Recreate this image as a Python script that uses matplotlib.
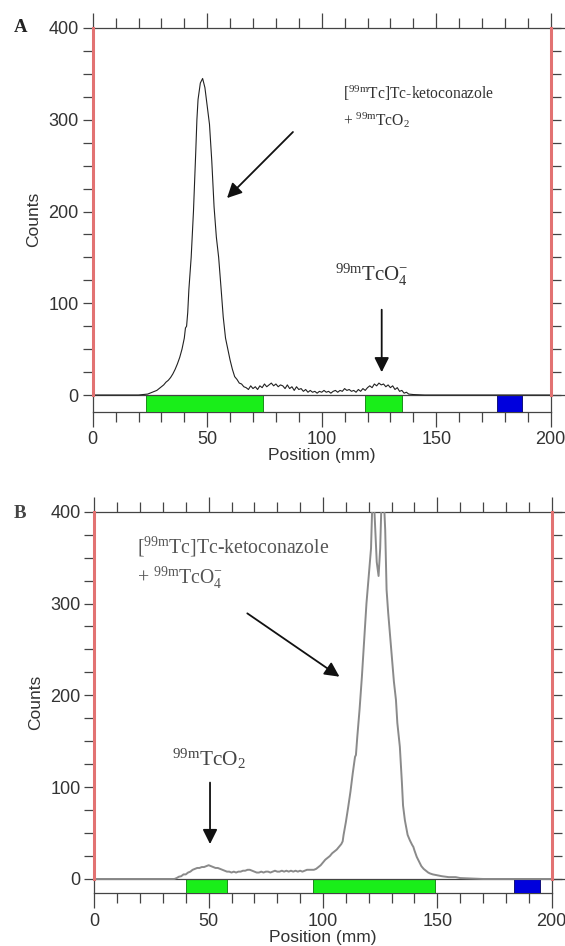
import matplotlib
matplotlib.use("Agg")
import matplotlib.pyplot as plt
from matplotlib.ticker import MultipleLocator

plt.rcParams['font.family'] = ['Liberation Sans', 'DejaVu Sans']
plt.rcParams['mathtext.fontset'] = 'custom'
plt.rcParams['mathtext.rm'] = 'Liberation Serif'
plt.rcParams['mathtext.it'] = 'Liberation Serif:italic'

# ---------------- data: panel A ----------------
pos_a = [0, 20, 22, 24, 25, 26, 27, 28, 29, 30, 31, 32, 33, 34, 35, 36, 37, 38, 39, 40,
         40.5, 41, 41.5, 42, 43, 44, 45, 45.5, 46, 47, 48, 49, 50, 51, 52, 53, 54, 55, 56,
         57, 58, 59, 60, 61, 62, 63, 64, 65, 66, 67, 68, 69, 70, 71, 72, 73, 74, 75, 76,
         77, 78, 79, 80, 81, 82, 83, 84, 85, 86, 87, 88, 89, 90, 91, 92, 93, 94, 95, 96,
         97, 98, 99, 100, 101, 102, 103, 104, 105, 106, 107, 108, 109, 110, 111, 112, 113,
         114, 115, 116, 117, 118, 119, 120, 121, 122, 123, 124, 125, 126, 127, 128, 129,
         130, 131, 132, 133, 134, 135, 136, 137, 138, 140, 145, 200]
counts_a = [0, 0, 0.5, 1, 2, 3, 4, 5, 7, 9, 11, 14, 16, 19, 23, 28, 34, 41, 50, 62,
            73, 75, 90, 115, 150, 200, 265, 300, 322, 340, 345, 335, 315, 295, 255, 205, 172, 150, 118,
            85, 62, 50, 38, 28, 20, 17, 13, 12, 9, 8, 6, 10, 7, 9, 6, 10, 8, 12, 9,
            11, 13, 10, 12, 9, 11, 10, 7, 11, 7, 9, 5, 9, 6, 7, 4, 6, 3, 5, 3,
            4, 2, 4, 3, 5, 3, 4, 2, 4, 5, 3, 5, 4, 7, 5, 6, 4,
            5, 3, 6, 4, 7, 5, 8, 10, 8, 12, 10, 13, 11, 12, 9, 11,
            8, 10, 6, 8, 4, 5, 2, 3, 1, 0.5, 0, 0]
bands_a_start = [23.3, 118.9]
bands_a_end = [74.5, 135.1]
ref_a = (176.4, 187.6)

# ---------------- data: panel B ----------------
pos_b = [0, 35, 36, 37, 38, 39, 40, 41, 42, 43, 44, 45, 46, 47, 48, 49, 50, 51, 52, 53,
         54, 55, 56, 57, 58, 59, 60, 61, 62, 63, 64, 65, 66, 67, 68, 69, 70, 71, 72, 73,
         74, 75, 76, 77, 78, 79, 80, 81, 82, 83, 84, 85, 86, 87, 88, 89, 90, 91, 92, 93,
         94, 95, 96, 97, 98, 99, 100, 101, 102, 103, 104, 105, 106, 107, 108, 108.6, 109,
         110, 111, 112, 113, 114, 114.4, 115, 116, 117, 118, 119, 120, 121, 121.8, 122.5,
         123.5, 124.3, 125, 125.8, 126.5, 127.2, 127.8, 128.5, 129, 130, 131, 131.9, 132.5,
         133.6, 134.5, 135, 135.8, 136.5, 137, 138, 139, 139.5, 140, 141, 142, 142.4, 143,
         144, 145, 146, 146.8, 148, 150, 152, 155, 158, 160, 165, 170, 200]
counts_b = [0, 0, 1, 2.5, 3, 5, 5, 7, 8, 10, 11, 12, 12, 13, 13, 14, 15, 14, 13, 12,
            12, 11, 10, 9, 8, 8, 7, 8, 7, 8, 8, 9, 9, 10, 10, 9, 8, 7, 7, 8,
            7, 8, 8, 7, 8, 9, 8, 8, 9, 8, 9, 8, 9, 8, 9, 8, 9, 8, 9, 10,
            10, 10, 10, 11, 13, 15, 18, 21, 23, 25, 28, 30, 32, 35, 38, 41, 48,
            62, 78, 95, 115, 133, 135, 155, 185, 220, 260, 300, 330, 360, 430, 400,
            345, 330, 360, 430, 420, 380, 315, 290, 275, 245, 215, 195, 170,
            144, 105, 80, 64, 55, 48, 42, 37, 35, 31, 24, 19, 17, 14,
            11, 9, 7, 6, 5, 4, 3, 2, 2, 1, 0.5, 0, 0]
bands_b_start = [40.2, 95.5]
bands_b_end = [58.0, 149.0]
ref_b = (183.5, 194.8)

x_ticks = [0, 50, 100, 150, 200]
y_ticks = [0, 100, 200, 300, 400]

W, H = 565, 946
fig = plt.figure(figsize=(W / 100, H / 100), dpi=100)

GREY = '#444444'
RED = '#e27272'
GREEN = '#19ee19'
BLUE = '#0000dd'
SERIF = ['Liberation Serif', 'DejaVu Serif']


def setup(ax, ymin):
    ax.set_xlim(0, 200)
    ax.set_ylim(ymin, 400)
    ax.set_xticks(x_ticks)
    ax.set_yticks(y_ticks)
    ax.xaxis.set_minor_locator(MultipleLocator(10))
    ax.set_yticks([v for v in range(25, 400, 25) if v % 100], minor=True)
    ax.tick_params(axis='x', which='major', top=True, bottom=True, direction='out',
                   length=11, width=0.9, color=GREY, labelsize=13, labelcolor='#333333', pad=3)
    ax.tick_params(axis='x', which='minor', top=True, bottom=True, direction='out',
                   length=7, width=0.9, color=GREY)
    ax.tick_params(axis='y', which='both', left=True, right=True, direction='out',
                   length=7, width=0.9, color=GREY, labelsize=13, labelcolor='#333333', pad=3)
    for s in ['top', 'bottom', 'left', 'right']:
        ax.spines[s].set_color(GREY)
        ax.spines[s].set_linewidth(0.9)
    ax.spines['left'].set_bounds(ymin, 0)
    ax.spines['right'].set_bounds(ymin, 0)
    frac0 = (0 - ymin) / (400 - ymin)
    ax.axvline(0, ymin=frac0, ymax=1, color=RED, lw=2.2, zorder=5, clip_on=False)
    ax.axvline(200, ymin=frac0, ymax=1, color=RED, lw=2.2, zorder=5, clip_on=False)
    # zero line and top line extending to figure edge
    ax.plot([0, 1.032], [0, 0], transform=ax.get_yaxis_transform(), color=GREY, lw=0.9,
            clip_on=False, zorder=4)
    ax.plot([1.0, 1.032], [400, 400], transform=ax.get_yaxis_transform(), color=GREY, lw=0.9,
            clip_on=False, zorder=4)
    ax.set_xlabel('Position (mm)', fontsize=12.5, color='#333333', labelpad=0)
    ax.set_ylabel('Counts', fontsize=12.5, color='#333333', labelpad=5)


def bands(ax, starts, ends, ref, ymin):
    for s, e in zip(starts, ends):
        ax.bar((s + e) / 2, 0 - ymin, width=e - s, bottom=ymin, color=GREEN,
               edgecolor='#0a7a0a', linewidth=0.6, zorder=3)
    ax.bar((ref[0] + ref[1]) / 2, 0 - ymin, width=ref[1] - ref[0], bottom=ymin, color=BLUE,
           edgecolor='#000066', linewidth=0.6, zorder=3)


ARROW = dict(arrowstyle='-|>', color='#111111', lw=1.3, mutation_scale=22)

# ---------------- Panel A ----------------
ymin_a = -18.2
axA = fig.add_axes([92.7 / W, 1 - 411.7 / H, 458 / W, (411.7 - 28) / H])
setup(axA, ymin_a)
axA.plot(pos_a, counts_a, color='#222222', lw=0.8, zorder=4)
bands(axA, bands_a_start, bands_a_end, ref_a, ymin_a)
axA.text(109.3, 314, '[$^{\\mathrm{99m}}$Tc]Tc-ketoconazole\n+ $^{\\mathrm{99m}}$TcO$_{2}$',
         family=SERIF, fontsize=11.2, color='#333333', va='center', ha='left', linespacing=1.5)
axA.annotate('', xy=(57.8, 212.5), xytext=(88.3, 288.8), arrowprops=ARROW)
axA.text(121.7, 131, '$^{\\mathrm{99m}}$TcO$_{4}^{-}$', family=SERIF, fontsize=15,
         color='#333333', ha='center', va='center')
axA.annotate('', xy=(126.2, 21.8), xytext=(126.2, 96), arrowprops=ARROW)
fig.text(14 / W, 1 - 28 / H, 'A', family=SERIF, fontweight='bold', fontsize=13.5,
         color='#222222', va='center', ha='left')

# ---------------- Panel B ----------------
ymin_b = -15.6
axB = fig.add_axes([94.3 / W, 1 - 893.3 / H, 457.4 / W, (893.3 - 511.7) / H])
setup(axB, ymin_b)
axB.plot(pos_b, counts_b, color='#8a8a8a', lw=1.4, zorder=4)
bands(axB, bands_b_start, bands_b_end, ref_b, ymin_b)
axB.text(18.5, 344, '[$^{\\mathrm{99m}}$Tc]Tc-ketoconazole\n+ $^{\\mathrm{99m}}$TcO$_{4}^{-}$',
         family=SERIF, fontsize=14.2, color='#555555', va='center', ha='left', linespacing=1.3)
axB.annotate('', xy=(108.2, 218.6), xytext=(65.9, 291), arrowprops=ARROW)
axB.text(50, 131, '$^{\\mathrm{99m}}$TcO$_{2}$', family=SERIF, fontsize=15.3,
         color='#444444', ha='center', va='center')
axB.annotate('', xy=(50.6, 35), xytext=(50.6, 108), arrowprops=ARROW)
fig.text(14 / W, 1 - 513 / H, 'B', family=SERIF, fontweight='bold', fontsize=13.5,
         color='#444444', va='center', ha='left')

fig.savefig('out.png', dpi=100)
